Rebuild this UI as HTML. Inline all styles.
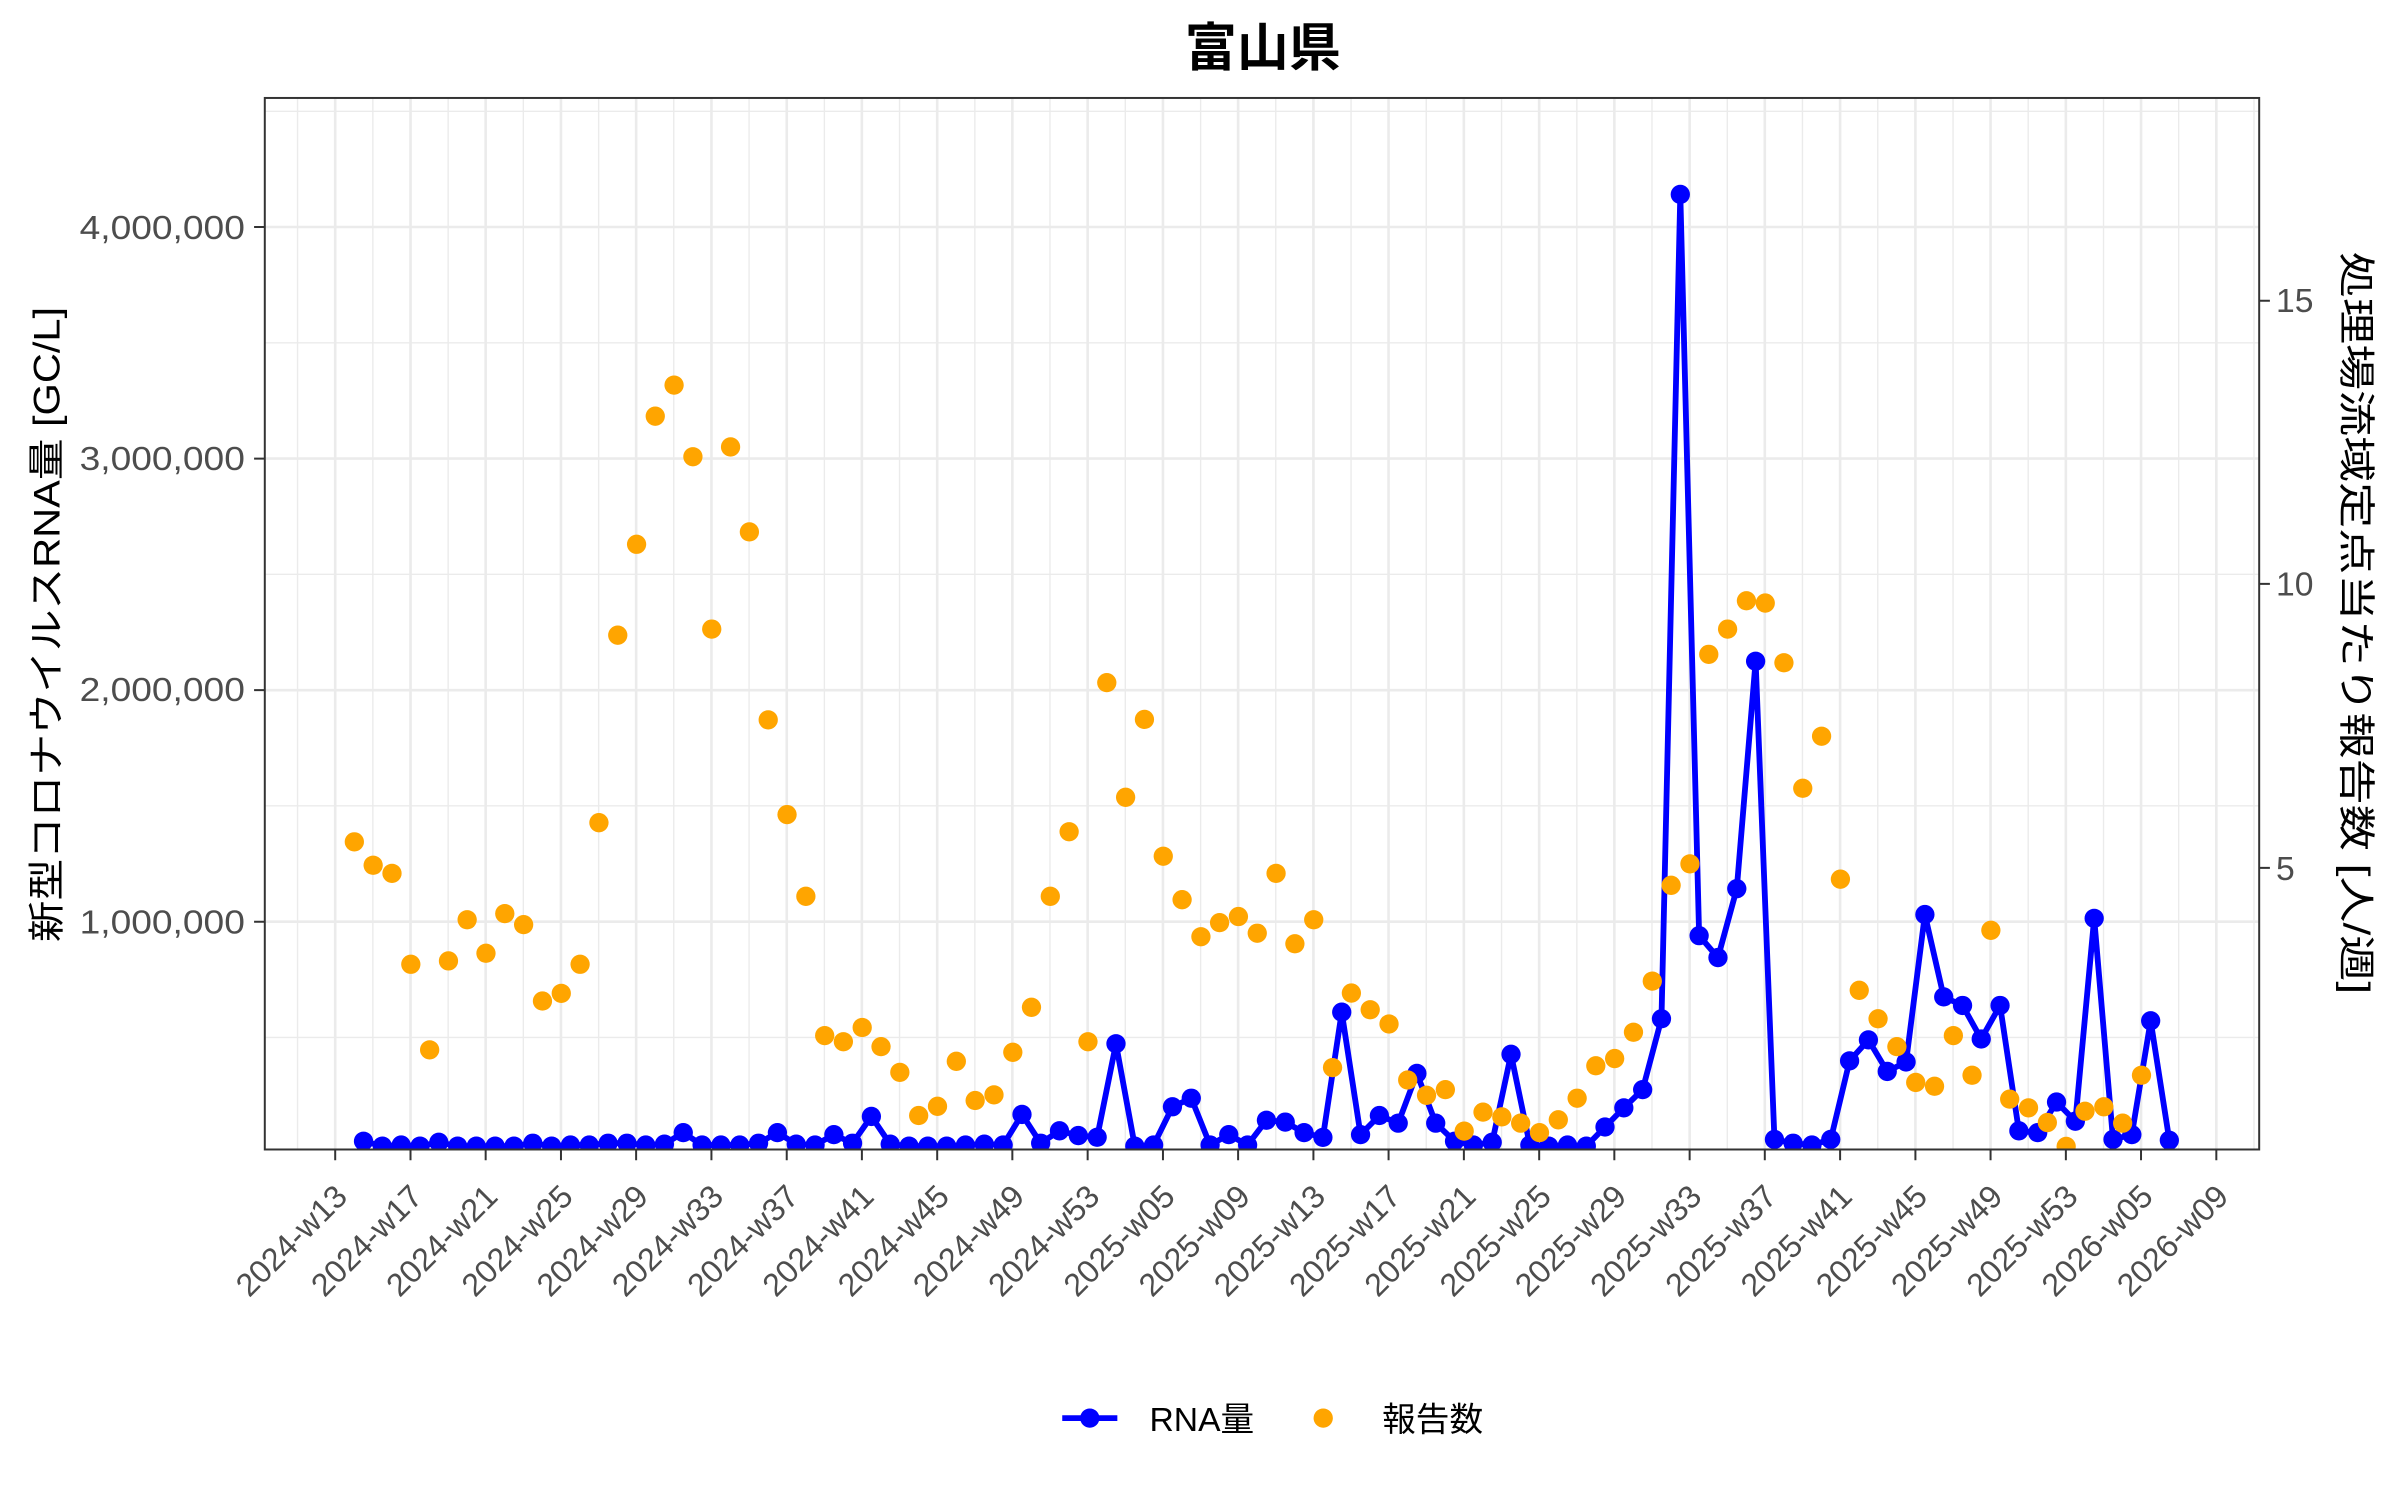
<!DOCTYPE html>
<html><head><meta charset="utf-8"><style>
html,body{margin:0;padding:0;background:#fff;}
svg{display:block;}
text{font-family:"Liberation Sans","Noto Sans CJK JP",sans-serif;}
</style></head><body>
<svg width="2400" height="1500" viewBox="0 0 1568 980" xmlns="http://www.w3.org/2000/svg">
<defs>
<marker id="mb" markerUnits="userSpaceOnUse" markerWidth="14" markerHeight="14" refX="7" refY="7"><circle cx="7" cy="7" r="6.3" fill="#0000ff"/></marker>
<marker id="mo" markerUnits="userSpaceOnUse" markerWidth="14" markerHeight="14" refX="7" refY="7"><circle cx="7" cy="7" r="6.3" fill="#ffa500"/></marker>
<clipPath id="cp"><rect x="173" y="64" width="1303" height="687"/></clipPath>
</defs>
<rect width="1568" height="980" fill="#fff"/>
<text x="825" y="43" font-size="34" font-weight="bold" text-anchor="middle" fill="#000">富山県</text>
<g stroke="#ebebeb" stroke-width="0.9" fill="none">
<path d="M173 72.7H1476M173 224H1476M173 375.2H1476M173 526.5H1476M173 677.8H1476"/>
<path d="M194.4 64V751M243.6 64V751M292.8 64V751M341.9 64V751M391.1 64V751M440.2 64V751M489.4 64V751M538.6 64V751M587.7 64V751M636.9 64V751M686 64V751M735.2 64V751M784.4 64V751M833.5 64V751M882.7 64V751M931.8 64V751M981 64V751M1030.2 64V751M1079.3 64V751M1128.5 64V751M1177.6 64V751M1226.8 64V751M1276 64V751M1325.1 64V751M1374.3 64V751M1423.4 64V751M1472.6 64V751"/>
</g>
<g stroke="#ebebeb" stroke-width="1.7" fill="none">
<path d="M173 148.3H1476M173 299.6H1476M173 450.9H1476M173 602.2H1476"/>
<path d="M219 64V751M268.2 64V751M317.3 64V751M366.5 64V751M415.6 64V751M464.8 64V751M514 64V751M563.1 64V751M612.3 64V751M661.4 64V751M710.6 64V751M759.8 64V751M808.9 64V751M858.1 64V751M907.2 64V751M956.4 64V751M1005.6 64V751M1054.7 64V751M1103.9 64V751M1153 64V751M1202.2 64V751M1251.4 64V751M1300.5 64V751M1349.7 64V751M1398.8 64V751M1448 64V751"/>
</g>
<g clip-path="url(#cp)">
<polyline fill="none" stroke="#0000ff" stroke-width="3.8" stroke-linejoin="round" marker-start="url(#mb)" marker-mid="url(#mb)" marker-end="url(#mb)" points="237.5,745.6 249.8,748.8 262.1,748.1 274.4,748.8 286.7,746.3 299,748.8 311.2,748.8 323.5,748.8 335.8,748.8 348.1,746.9 360.4,748.8 372.7,748.1 385,748.1 397.3,746.9 409.6,746.9 421.9,748.1 434.1,747.5 446.4,740 458.7,748.1 471,748.1 483.3,748.1 495.6,746.9 507.9,740 520.2,747.5 532.5,748.1 544.8,741.3 557,746.9 569.3,729.4 581.6,747.5 593.9,748.8 606.2,748.8 618.5,748.8 630.8,748.1 643.1,747.5 655.4,748.1 667.7,728.1 679.9,746.9 692.2,738.8 704.5,741.9 716.8,743 729.1,681.9 741.4,748.8 753.7,748.1 766,723.1 778.3,717.5 790.6,748.1 802.8,741.3 815.1,748.1 827.4,731.9 839.7,733.1 852,740 864.3,743.1 876.6,661.3 888.9,741.3 901.2,728.8 913.5,733.8 925.7,701.3 938,733.8 950.3,745.6 962.6,748.1 974.9,746.3 987.2,688.8 999.5,748.1 1011.8,748.8 1024.1,748.1 1036.4,748.8 1048.6,736.3 1060.9,723.8 1073.2,711.9 1085.5,665.6 1097.8,127 1110.1,611.3 1122.4,625.6 1134.7,580.6 1147,432 1159.3,744.4 1171.5,746.9 1183.8,748.1 1196.1,744.4 1208.4,693.1 1220.7,679.4 1233,700 1245.3,693.8 1257.6,597.5 1269.9,651.3 1282.2,656.9 1294.4,678.8 1306.7,656.9 1319,738.8 1331.3,740 1343.6,720 1355.9,732.5 1368.2,600 1380.5,744.4 1392.8,741.3 1405.1,666.9 1417.3,745"/>
<polyline fill="none" stroke="none" marker-start="url(#mo)" marker-mid="url(#mo)" marker-end="url(#mo)" points="231.5,550 243.8,565.3 256.1,570.6 268.4,630 280.7,685.9 293,627.8 305.2,600.9 317.5,622.8 329.8,596.9 342.1,604.1 354.4,654 366.7,649 379,630 391.3,537.5 403.6,415 415.9,355.6 428.1,271.9 440.4,251.6 452.7,298.4 465,411 477.3,292 489.6,347.5 501.9,470.3 514.2,532.2 526.5,585.6 538.8,676.6 551,680.6 563.3,671.3 575.6,683.8 587.9,700.6 600.2,728.8 612.5,722.8 624.8,693.4 637.1,719 649.4,715.3 661.7,687.5 673.9,658.1 686.2,585.6 698.5,543.4 710.8,680.6 723.1,446 735.4,520.9 747.7,470 760,559.4 772.3,587.8 784.6,612 796.8,602.8 809.1,598.8 821.4,609.7 833.7,570.6 846,616.6 858.3,600.9 870.6,697.5 882.9,648.8 895.2,659.7 907.5,669 919.7,705.6 932,715.6 944.3,711.9 956.6,739 968.9,726.6 981.2,729.7 993.5,733.8 1005.8,740 1018.1,731.6 1030.4,717.5 1042.6,696.3 1054.9,691.6 1067.2,674.4 1079.5,641 1091.8,578.4 1104.1,564.4 1116.4,427.5 1128.7,411 1141,392.5 1153.3,394 1165.5,433 1177.8,515 1190.1,481 1202.4,574.4 1214.7,647 1227,665.6 1239.3,683.8 1251.6,707.2 1263.9,709.7 1276.2,676.6 1288.4,702.5 1300.7,607.8 1313,718.1 1325.3,723.8 1337.6,733.4 1349.9,749 1362.2,726 1374.5,723.1 1386.8,733.8 1399.1,702.5"/>
</g>
<rect x="173" y="64" width="1303" height="687" fill="none" stroke="#333" stroke-width="1.3"/>
<g stroke="#333" stroke-width="1.3">
<path d="M166 148.3H173M166 299.6H173M166 450.9H173M166 602.2H173"/>
<path d="M1476 196.5H1483M1476 381.5H1483M1476 567H1483"/>
<path d="M219 751V758M268.2 751V758M317.3 751V758M366.5 751V758M415.6 751V758M464.8 751V758M514 751V758M563.1 751V758M612.3 751V758M661.4 751V758M710.6 751V758M759.8 751V758M808.9 751V758M858.1 751V758M907.2 751V758M956.4 751V758M1005.6 751V758M1054.7 751V758M1103.9 751V758M1153 751V758M1202.2 751V758M1251.4 751V758M1300.5 751V758M1349.7 751V758M1398.8 751V758M1448 751V758"/>
</g>
<g font-size="22" fill="#4d4d4d" text-anchor="end">
<text x="160" y="156" textLength="108" lengthAdjust="spacingAndGlyphs">4,000,000</text>
<text x="160" y="307" textLength="108" lengthAdjust="spacingAndGlyphs">3,000,000</text>
<text x="160" y="458" textLength="108" lengthAdjust="spacingAndGlyphs">2,000,000</text>
<text x="160" y="610" textLength="108" lengthAdjust="spacingAndGlyphs">1,000,000</text>
</g>
<g font-size="22" fill="#4d4d4d">
<text x="1487" y="204">15</text>
<text x="1487" y="389">10</text>
<text x="1487" y="575">5</text>
</g>
<g font-size="21" fill="#4d4d4d" text-anchor="end">
<text transform="translate(228,783) rotate(-45)">2024-w13</text>
<text transform="translate(277.2,783) rotate(-45)">2024-w17</text>
<text transform="translate(326.3,783) rotate(-45)">2024-w21</text>
<text transform="translate(375.5,783) rotate(-45)">2024-w25</text>
<text transform="translate(424.6,783) rotate(-45)">2024-w29</text>
<text transform="translate(473.8,783) rotate(-45)">2024-w33</text>
<text transform="translate(523,783) rotate(-45)">2024-w37</text>
<text transform="translate(572.1,783) rotate(-45)">2024-w41</text>
<text transform="translate(621.3,783) rotate(-45)">2024-w45</text>
<text transform="translate(670.4,783) rotate(-45)">2024-w49</text>
<text transform="translate(719.6,783) rotate(-45)">2024-w53</text>
<text transform="translate(768.8,783) rotate(-45)">2025-w05</text>
<text transform="translate(817.9,783) rotate(-45)">2025-w09</text>
<text transform="translate(867.1,783) rotate(-45)">2025-w13</text>
<text transform="translate(916.2,783) rotate(-45)">2025-w17</text>
<text transform="translate(965.4,783) rotate(-45)">2025-w21</text>
<text transform="translate(1014.6,783) rotate(-45)">2025-w25</text>
<text transform="translate(1063.7,783) rotate(-45)">2025-w29</text>
<text transform="translate(1112.9,783) rotate(-45)">2025-w33</text>
<text transform="translate(1162,783) rotate(-45)">2025-w37</text>
<text transform="translate(1211.2,783) rotate(-45)">2025-w41</text>
<text transform="translate(1260.4,783) rotate(-45)">2025-w45</text>
<text transform="translate(1309.5,783) rotate(-45)">2025-w49</text>
<text transform="translate(1358.7,783) rotate(-45)">2025-w53</text>
<text transform="translate(1407.8,783) rotate(-45)">2026-w05</text>
<text transform="translate(1457,783) rotate(-45)">2026-w09</text>
</g>
<text transform="translate(39,408) rotate(-90)" font-size="24" text-anchor="middle" fill="#000" textLength="415" lengthAdjust="spacingAndGlyphs">新型コロナウイルスRNA量 [GC/L]</text>
<text transform="translate(1531,407) rotate(90)" font-size="24" text-anchor="middle" fill="#000" textLength="485" lengthAdjust="spacingAndGlyphs">処理場流域定点当たり報告数 [人/週]</text>
<line x1="694" y1="926.5" x2="730" y2="926.5" stroke="#0000ff" stroke-width="3.8"/>
<circle cx="712" cy="926.5" r="6.3" fill="#0000ff"/>
<text x="751" y="935" font-size="22" fill="#000">RNA量</text>
<circle cx="864.5" cy="926.5" r="6.3" fill="#ffa500"/>
<text x="903" y="935" font-size="22" fill="#000">報告数</text>
</svg>
</body></html>
